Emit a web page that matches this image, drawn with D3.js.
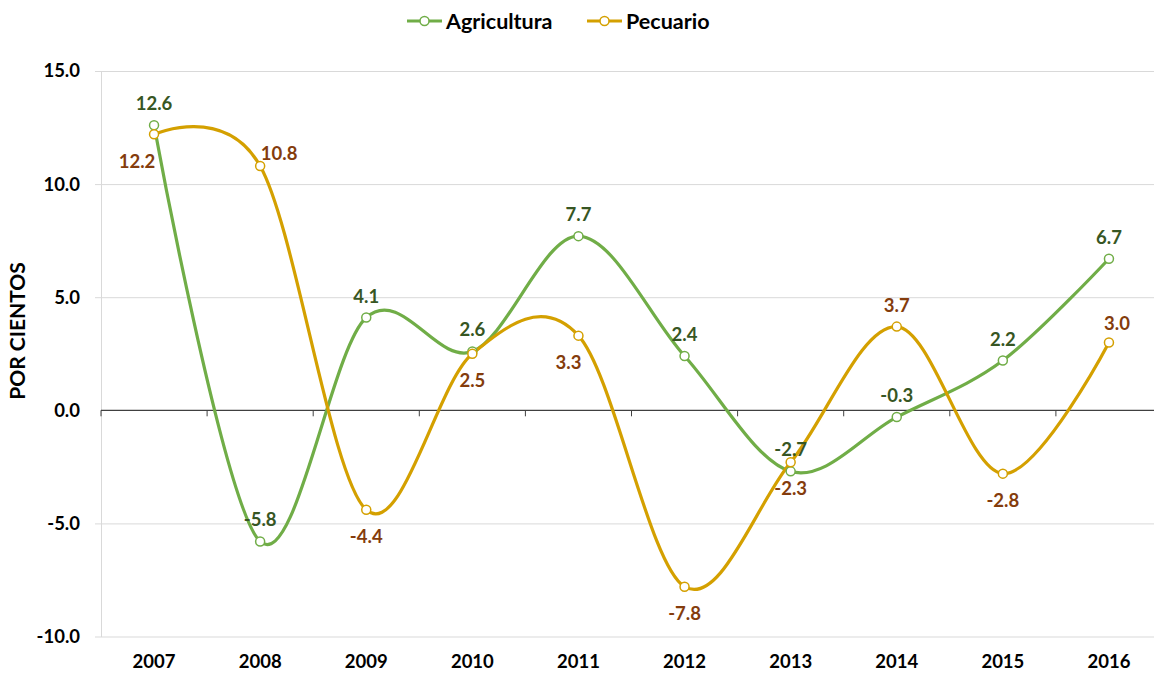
<!DOCTYPE html>
<html>
<head>
<meta charset="utf-8">
<script src="https://cdn.jsdelivr.net/npm/d3@7"></script>
<style>
  body { margin: 0; background: #fff; }
  svg { font-family: Lato, "Open Sans", sans-serif; font-weight: bold; }
</style>
</head>
<body>
<svg id="chart" width="1154" height="674"></svg>
<script>
// data
const years = ["2007", "2008", "2009", "2010", "2011", "2012", "2013", "2014", "2015", "2016"];
const agricultura = [12.6, -5.8, 4.1, 2.6, 7.7, 2.4, -2.7, -0.3, 2.2, 6.7];
const pecuario = [12.2, 10.8, -4.4, 2.5, 3.3, -7.8, -2.3, 3.7, -2.8, 3.0];
const yTicks = [-10, -5, 0, 5, 10, 15];

// where each data label sits relative to its point
const agriPlacement = ["above", "above", "above", "above", "above", "above", "above", "above", "above", "above"];
const pecPlacement = ["belowLeft", "aboveRight", "below", "below", "belowShift", "below", "below", "above", "below", "aboveShift"];

const offsets = {
    above: [0, -22],
    below: [0, 26],
    belowLeft: [-17, 27],
    aboveRight: [19, -13],
    belowShift: [-10, 26],
    aboveShift: [8, -19]
};

const fmt = v => v.toFixed(1); // plain hyphen minus like the original

const svg = d3.select("#chart");
const W = 1154;
const plotLeft = 101, plotTop = 71, plotBottom = 636.5;

const x = d3.scaleBand().domain(years).range([plotLeft, 1162]).padding(0);
const y = d3.scaleLinear().domain([-10, 15]).range([plotBottom, plotTop]);
const cx = d => x(d) + x.bandwidth() / 2;

// y axis with gridlines
const yAxis = svg.append("g")
    .attr("transform", `translate(${plotLeft},0)`)
    .call(d3.axisLeft(y).tickValues(yTicks).tickFormat(fmt)
        .tickSizeInner(-(W - plotLeft)).tickSizeOuter(0).tickPadding(21));
yAxis.select(".domain").attr("stroke", "#d9d9d9");
yAxis.selectAll(".tick line").attr("x1", -6).attr("x2", W - plotLeft)
    .attr("stroke", d => d === 0 ? "none" : "#d9d9d9");
yAxis.selectAll(".tick text").attr("font-size", 18.5).attr("fill", "#000")
    .attr("font-family", "Lato, sans-serif").attr("font-weight", "bold");

// zero line with category boundary ticks
const zero = svg.append("g").attr("transform", `translate(0,${y(0)})`);
zero.append("line").attr("x1", plotLeft).attr("x2", W).attr("stroke", "#404040").attr("stroke-width", 1.2);
zero.selectAll("line.tk").data(years).join("line").attr("class", "tk")
    .attr("x1", d => x(d)).attr("x2", d => x(d)).attr("y1", 0).attr("y2", 6)
    .attr("stroke", "#404040");

// x labels at the bottom
const xAxis = svg.append("g")
    .attr("transform", `translate(0,${plotBottom})`)
    .call(d3.axisBottom(x).tickSize(0).tickPadding(18));
xAxis.select(".domain").remove();
xAxis.selectAll(".tick text").attr("font-size", 18.5).attr("fill", "#000")
    .attr("font-family", "Lato, sans-serif").attr("font-weight", "bold");

// y title
svg.append("text")
    .attr("transform", "translate(25,331) rotate(-90)")
    .attr("text-anchor", "middle")
    .attr("font-size", 21)
    .text("POR CIENTOS");

const series = [
    { name: "Agricultura", values: agricultura, color: "#70ad47", label: "#375623", place: agriPlacement },
    { name: "Pecuario", values: pecuario, color: "#d4a000", label: "#843c0c", place: pecPlacement }
];

const line = d3.line()
    .x((d, i) => cx(years[i]))
    .y(d => y(d))
    .curve(d3.curveCatmullRom.alpha(0));

series.forEach(s => {
    svg.append("path")
        .datum(s.values)
        .attr("d", line)
        .attr("fill", "none")
        .attr("stroke", s.color)
        .attr("stroke-width", 3.2)
        .attr("stroke-linejoin", "round");
});

series.forEach(s => {
    svg.append("g").selectAll("circle")
        .data(s.values)
        .join("circle")
        .attr("cx", (d, i) => cx(years[i]))
        .attr("cy", d => y(d))
        .attr("r", 4.5)
        .attr("fill", "#fff")
        .attr("stroke", s.color)
        .attr("stroke-width", 1.5);
});

series.forEach(s => {
    svg.append("g").selectAll("text")
        .data(s.values)
        .join("text")
        .attr("x", (d, i) => cx(years[i]) + offsets[s.place[i]][0])
        .attr("y", (d, i) => y(d) + offsets[s.place[i]][1])
        .attr("text-anchor", "middle")
        .attr("dominant-baseline", "central")
        .attr("font-size", 18.5)
        .attr("fill", s.label)
        .text(fmt);
});

// legend
const legendX = [407, 587];
const legend = svg.append("g").selectAll("g")
    .data(series)
    .join("g")
    .attr("transform", (d, i) => `translate(${legendX[i]},21)`);
legend.append("line").attr("x1", 0).attr("x2", 35)
    .attr("stroke", d => d.color).attr("stroke-width", 3.2);
legend.append("circle").attr("cx", 17.5).attr("r", 4.5)
    .attr("fill", "#fff").attr("stroke", d => d.color).attr("stroke-width", 1.5);
legend.append("text").attr("x", 39).attr("dominant-baseline", "central")
    .attr("font-size", 21.5).attr("fill", "#000")
    .text(d => d.name);
</script>
</body>
</html>
